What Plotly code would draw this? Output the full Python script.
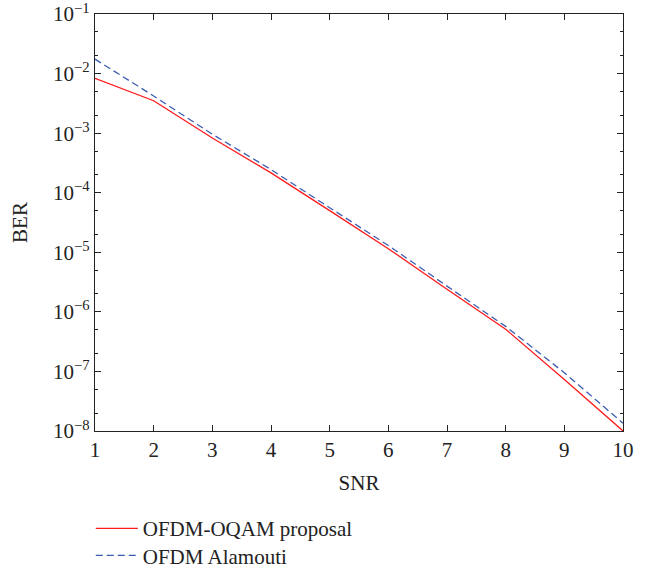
import plotly.graph_objects as go

snr = [1, 2, 3, 4, 5, 6, 7, 8, 9, 10]
ber_oqam = [8.3e-3, 3.5e-3, 8.3e-4, 2.15e-4, 5.0e-5, 1.15e-5, 2.4e-6, 5.1e-7, 7.3e-8, 1.0e-8]
ber_alamouti = [1.75e-2, 4.2e-3, 9.6e-4, 2.45e-4, 5.6e-5, 1.3e-5, 2.7e-6, 5.7e-7, 9.5e-8, 1.35e-8]
names = ["OFDM-OQAM proposal", "OFDM Alamouti"]
y_ticks = [1e-8, 1e-7, 1e-6, 1e-5, 1e-4, 1e-3, 1e-2, 1e-1]
y_ticklabels = ["10<sup>−8</sup>", "10<sup>−7</sup>", "10<sup>−6</sup>", "10<sup>−5</sup>",
                "10<sup>−4</sup>", "10<sup>−3</sup>", "10<sup>−2</sup>", "10<sup>−1</sup>"]

font = "Liberation Serif"
fs = 21
fig = go.Figure()
fig.add_trace(go.Scatter(x=snr, y=ber_oqam, mode="lines", name=names[0],
                         line=dict(color="#ff1a1a", width=1.3), legend="legend"))
fig.add_trace(go.Scatter(x=snr, y=ber_alamouti, mode="lines", name=names[1],
                         line=dict(color="#3a5cb0", width=1.3, dash="7px,4px"),
                         legend="legend2"))

leg_common = dict(x=-0.008, xanchor="left", yanchor="top",
                  font=dict(family=font, size=fs), bgcolor="rgba(0,0,0,0)",
                  itemwidth=42)
fig.update_layout(
    width=649, height=569,
    margin=dict(l=95, r=26, t=14, b=138, autoexpand=False),
    paper_bgcolor="white", plot_bgcolor="white",
    font=dict(family=font, size=fs, color="#222"),
    showlegend=True,
    legend=dict(y=-0.185, **leg_common),
    legend2=dict(y=-0.25, **leg_common),
)
fig.update_xaxes(
    range=[1, 10], dtick=1, tick0=1,
    ticks="inside", ticklen=6, tickcolor="#222",
    showline=True, linecolor="#222", linewidth=1.2, mirror="allticks",
    showgrid=False, zeroline=False, automargin=False,
    ticklabeloverflow="allow",
    title=dict(text="SNR", font=dict(family=font, size=fs), standoff=14),
)
fig.update_yaxes(
    type="log", range=[-8.0005, -0.9995],
    tickmode="array", tickvals=y_ticks, ticktext=y_ticklabels,
    ticks="inside", ticklen=6, tickcolor="#222",
    minor=dict(ticks="inside", ticklen=3, tickcolor="#222", showgrid=False),
    showline=True, linecolor="#222", linewidth=1.2, mirror="allticks",
    showgrid=False, zeroline=False, automargin=False,
    ticklabeloverflow="allow",
    title=dict(text="BER", font=dict(family=font, size=fs), standoff=19),
)
fig.write_html("out.html", config={"displayModeBar": False},
               post_script="document.body.style.margin='0';")
